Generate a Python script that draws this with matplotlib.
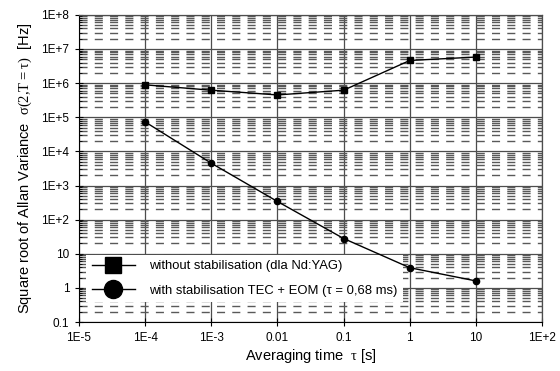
import matplotlib
matplotlib.use("Agg")
import matplotlib.pyplot as plt
from matplotlib.lines import Line2D
from matplotlib.ticker import FixedLocator, NullFormatter

plt.rcParams['font.family'] = ['Liberation Sans', 'DejaVu Sans']
plt.rcParams['mathtext.fontset'] = 'custom'
plt.rcParams['mathtext.rm'] = 'Liberation Serif'
plt.rcParams['lines.scale_dashes'] = False

# averaging time tau [s]
tau = [1e-4, 1e-3, 1e-2, 1e-1, 1, 10]
# sqrt Allan variance [Hz]
without_stab = [8.9e5, 6.2e5, 4.5e5, 6.2e5, 4.6e6, 5.8e6]
with_stab = [7.3e4, 4.5e3, 340, 28, 3.9, 1.6]

label_without = 'without stabilisation (dla Nd:YAG)'
label_with = 'with stabilisation TEC + EOM (τ = 0,68 ms)'

x_ticks = [1e-5, 1e-4, 1e-3, 1e-2, 1e-1, 1, 10, 100]
x_ticklabels = ['1E-5', '1E-4', '1E-3', '0.01', '0.1', '1', '10', '1E+2']
y_ticks = [0.1, 1, 10, 100, 1e3, 1e4, 1e5, 1e6, 1e7, 1e8]
y_ticklabels = ['0.1', '1', '10', '1E+2', '1E+3', '1E+4', '1E+5', '1E+6', '1E+7', '1E+8']

fig = plt.figure(figsize=(5.6, 3.71), dpi=100)
ax = fig.add_axes([0.141, 0.132, 0.827, 0.828])

ax.plot(tau, without_stab, color='k', lw=1.0, marker='s', ms=4.5, zorder=3)
ax.plot(tau, with_stab, color='k', lw=1.0, marker='o', ms=4.5, zorder=3)

ax.set_xscale('log')
ax.set_yscale('log')
ax.set_xlim(1e-5, 1e2)
ax.set_ylim(0.1, 1e8)

ax.xaxis.set_major_locator(FixedLocator(x_ticks))
ax.set_xticklabels(x_ticklabels)
ax.xaxis.set_minor_locator(FixedLocator([]))
ax.yaxis.set_major_locator(FixedLocator(y_ticks))
ax.set_yticklabels(y_ticklabels)
minors = [m * 10.0 ** e for e in range(-1, 8) for m in range(2, 10)]
ax.yaxis.set_minor_locator(FixedLocator(minors))
ax.yaxis.set_minor_formatter(NullFormatter())

ax.grid(True, which='major', axis='both', color='0.3', lw=0.9, ls='-')
ax.grid(True, which='minor', axis='y', color='0.35', lw=1.0, ls=(0, (5.8, 5.2)))
ax.set_axisbelow(True)

ax.tick_params(which='major', direction='inout', length=6, width=0.8, labelsize=8.5, pad=4)
ax.tick_params(which='minor', direction='in', length=2, width=0.6)
for s in ['top', 'right']:
    ax.spines[s].set_color('0.3')
    ax.spines[s].set_linewidth(0.9)

ax.set_xlabel(r'Averaging time  $\mathrm{\tau}$ [s]', fontsize=10.5, labelpad=2)
ax.set_ylabel(r'Square root of Allan Variance  $\mathrm{\sigma(2{,}T{=}\tau)}$  [Hz]',
              fontsize=10.5, labelpad=5)

handles = [Line2D([], [], color='k', lw=1.0, marker='s', ms=11),
           Line2D([], [], color='k', lw=1.0, marker='o', ms=13)]
leg = ax.legend(handles, [label_without, label_with], loc='upper left',
                bbox_to_anchor=(0.002, 0.24), fontsize=9.4, frameon=True,
                fancybox=False, edgecolor='none', facecolor='white', framealpha=1,
                handlelength=3.3, handletextpad=1.1, labelspacing=0.95,
                borderpad=0.4)
leg.set_zorder(2)

fig.savefig('out.png', dpi=100)
